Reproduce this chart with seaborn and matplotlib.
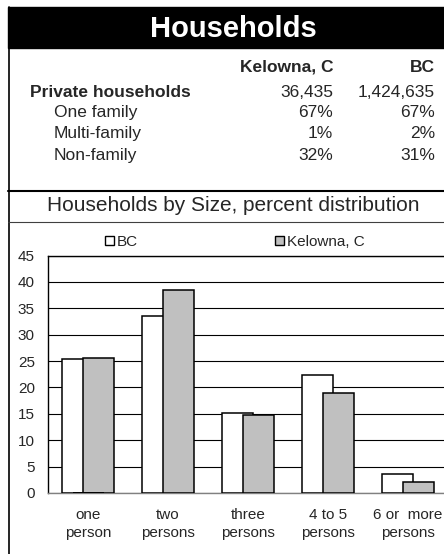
import matplotlib
matplotlib.use("Agg")
import matplotlib.pyplot as plt
import pandas as pd
import seaborn as sns
from matplotlib.lines import Line2D
from matplotlib.patches import Rectangle

# table data
table_cols = ["Kelowna, C", "BC"]
table_rows = ["Private households", "One family", "Multi-family", "Non-family"]
kelowna_table = ["36,435", "67%", "1%", "32%"]
bc_table = ["1,424,635", "67%", "2%", "31%"]

# households by size, percent distribution
sizes = ["one\nperson", "two\npersons", "three\npersons", "4 to 5\npersons", "6 or  more\npersons"]
bc_pct = [25.3, 33.5, 15.1, 22.3, 3.6]
kelowna_pct = [25.6, 38.4, 14.7, 19.0, 2.0]
y_ticks = [0, 5, 10, 15, 20, 25, 30, 35, 40, 45]

W, H = 444, 554


def fx(x):
    return x / W


def fy(y):
    return 1 - y / H


def main() -> None:
    sns.set_style("white")
    plt.rcParams["font.family"] = ["Liberation Sans", "DejaVu Sans"]

    fig = plt.figure(figsize=(W / 100, H / 100), dpi=100)

    # header band + frame
    fig.patches.append(Rectangle((fx(8), fy(48)), 1.0, 41 / H, transform=fig.transFigure,
                                 color="black", zorder=0))
    fig.lines.append(Line2D([fx(8.5), fx(8.5)], [fy(7), 0], transform=fig.transFigure,
                            color="black", lw=1.2))
    fig.lines.append(Line2D([fx(8), 1], [fy(191), fy(191)], transform=fig.transFigure,
                            color="black", lw=1.5))
    fig.lines.append(Line2D([fx(8), 1], [fy(222), fy(222)], transform=fig.transFigure,
                            color="#404040", lw=0.8))

    fig.text(fx(233), fy(37), "Households", color="white", fontsize=21, fontweight="bold",
             ha="center", va="baseline")

    fig.text(fx(333), fy(72), table_cols[0], fontsize=12.5, fontweight="bold", ha="right", va="baseline")
    fig.text(fx(435), fy(72), table_cols[1], fontsize=12.5, fontweight="bold", ha="right", va="baseline")
    baselines = [97, 117, 138, 160]
    for i, (lab, k, b) in enumerate(zip(table_rows, kelowna_table, bc_table)):
        y = fy(baselines[i])
        if i == 0:
            fig.text(fx(30), y, lab, fontsize=12.5, fontweight="bold", ha="left", va="baseline")
        else:
            fig.text(fx(54), y, lab, fontsize=12.5, ha="left", va="baseline")
        fig.text(fx(333), y, k, fontsize=12.5, ha="right", va="baseline")
        fig.text(fx(435), y, b, fontsize=12.5, ha="right", va="baseline")

    fig.text(fx(233), fy(211), "Households by Size, percent distribution", fontsize=15,
             ha="center", va="baseline")

    # chart
    df = pd.DataFrame({
        "size": sizes * 2,
        "pct": bc_pct + kelowna_pct,
        "area": ["BC"] * len(sizes) + ["Kelowna, C"] * len(sizes),
    })
    ax = fig.add_axes([fx(48), fy(493), 400 / W, (493 - 255.5) / H])
    sns.barplot(data=df, x="size", y="pct", hue="area", hue_order=["BC", "Kelowna, C"],
                palette={"BC": "white", "Kelowna, C": "#C0C0C0"}, width=0.525,
                edgecolor="black", linewidth=1.1, saturation=1, ax=ax)
    # widen bars so they overlap like the original
    new_w = 0.3875
    for p in ax.patches:
        c = p.get_x() + p.get_width() / 2
        p.set_x(c - new_w / 2)
        p.set_width(new_w)
        p.set_zorder(3)

    ax.set_xlim(-0.5, 4.5)
    ax.set_ylim(0, 45)
    ax.set_yticks(y_ticks)
    ax.yaxis.grid(True, color="black", lw=0.8)
    ax.set_axisbelow(True)
    ax.set_xlabel("")
    ax.set_ylabel("")
    ax.tick_params(axis="y", length=0, pad=9.5, labelsize=11)
    ax.tick_params(axis="x", length=0, pad=11, labelsize=11)
    for t in ax.get_xticklabels():
        t.set_linespacing(1.35)
    for s in ["left", "top"]:
        ax.spines[s].set_color("black")
        ax.spines[s].set_linewidth(1.0)
    ax.spines["bottom"].set_color("#808080")
    ax.spines["bottom"].set_linewidth(1.0)
    ax.spines["right"].set_visible(False)

    leg = ax.get_legend()
    handles = leg.legend_handles
    labels = [t.get_text() for t in leg.get_texts()]
    for h in handles:
        h.set_edgecolor("black")
        h.set_linewidth(1.0)
    leg.remove()
    fig.legend(handles, labels, loc="center left", bbox_to_anchor=(fx(105), fy(242)),
               ncol=2, frameon=False, fontsize=11, handlelength=0.6, handleheight=0.6,
               handletextpad=0.15, columnspacing=9.0, borderpad=0, borderaxespad=0)

    fig.savefig("out.png", dpi=100)


if __name__ == "__main__":
    main()
